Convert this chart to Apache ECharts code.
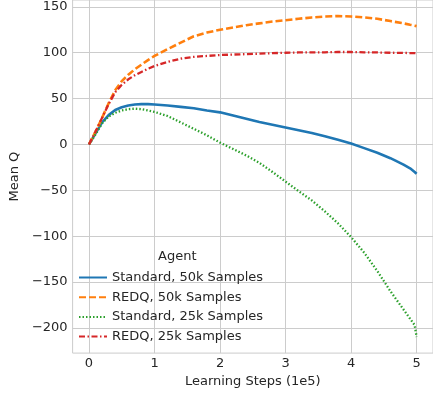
<!DOCTYPE html>
<html><head><meta charset="utf-8">
<script src="https://cdn.jsdelivr.net/npm/echarts@6/dist/echarts.min.js"></script>
<style>html,body{margin:0;padding:0;background:#fff}#c{width:433px;height:393px}</style>
</head><body><div id="c"></div>
<script>
const steps = [0,0.1,0.2,0.3,0.4,0.5,0.6,0.7,0.8,0.9,1.0,1.2,1.4,1.6,1.8,2.0,2.2,2.4,2.6,2.8,3.0,3.2,3.4,3.6,3.8,4.0,4.2,4.4,4.6,4.8,4.9,4.97,5.0];
const standard50k = [0,12,24,32,37.5,40.5,42.5,43.5,44,44,43.5,42.5,41,39.5,37,35,31.5,28,24.5,21.5,18.5,15.5,12.5,9,5,1,-4,-9,-15,-22,-26,-30,-32];
const redq50k = [0,14,29,45,59,69,76,82,87,92,96.5,104,111,118,122,125,127.5,130,132,134,135.5,137,138.5,139.5,140,139.5,138.5,137,134.5,132,130.5,129.5,129];
const standard25k = [0,11,23,30.5,34.5,37,38.5,39,38.5,37,35.5,31,24,17,10,2,-5,-12,-20,-30,-40.5,-51,-61,-73,-86,-101,-118,-138,-160,-180,-190,-197,-210];
const redq25k = [0,14,29,44,57,65,71,75.5,79,82.5,85.5,90,93.5,95.5,96.5,97.5,98,98.5,99,99.5,100,100.3,100.5,100.5,100.8,100.8,100.5,100.3,100,99.8,99.6,99.5,99.5];
const seriesNames = ['Standard, 50k Samples','REDQ, 50k Samples','Standard, 25k Samples','REDQ, 25k Samples'];
const xTicks = [0,1,2,3,4,5];
const yTicks = [-200,-150,-100,-50,0,50,100,150];
const legendTitle = 'Agent';
const xLabel = 'Learning Steps (1e5)';
const yLabel = 'Mean Q';

const pair = vals => steps.map((s,i)=>[s, vals[i]]);
const txt = '#262626', grid = '#cccccc';
const font = 'DejaVu Sans';
const chart = echarts.init(document.getElementById('c'), null, {renderer:'canvas'});
const mk = (name, vals, color, type, width) => ({
  name, type:'line', data: pair(vals), symbol:'none', smooth:false,
  lineStyle:{color, width, type}, itemStyle:{color}, z: 3
});
chart.setOption({
  animation:false,
  backgroundColor:'#fff',
  grid:{left:67, right:0, top:0, bottom:39, show:true, borderColor:grid, borderWidth:1, containLabel:false},
  xAxis:{type:'value', min:-0.25, max:5.25,
    name:xLabel, nameLocation:'middle', nameGap:20, nameTextStyle:{color:txt, fontSize:13, fontFamily:font},
    axisLine:{show:false}, axisTick:{show:false, customValues:xTicks},
    axisLabel:{customValues:xTicks, color:txt, fontSize:13, fontFamily:font, margin:4},
    splitLine:{show:true, lineStyle:{color:grid, width:1}}},
  yAxis:{type:'value', min:-227.5, max:157.5,
    name:yLabel, nameLocation:'middle', nameGap:46, nameTextStyle:{color:txt, fontSize:13, fontFamily:font},
    axisLine:{show:false}, axisTick:{show:false, customValues:yTicks},
    axisLabel:{customValues:yTicks, color:txt, fontSize:13, fontFamily:font, margin:5,
      formatter: v => v < 0 ? '\u2212' + Math.abs(v) : String(v)},
    splitLine:{show:true, lineStyle:{color:grid, width:1}}},
  legend:{orient:'vertical', left:78, top:270.5, itemWidth:28, itemHeight:14, itemGap:5.7,
    data:seriesNames, lineStyle:{width:2}, itemStyle:{opacity:0, color:'rgba(0,0,0,0)', borderWidth:0},
    textStyle:{color:txt, fontSize:13, fontFamily:font, lineHeight:14}, padding:0},
  graphic:[{type:'text', left:158, top:250, style:{text:legendTitle, fill:txt, font:'13px "DejaVu Sans"'}}],
  series:[
    mk(seriesNames[0], standard50k, '#1f77b4', 'solid', 2.6),
    mk(seriesNames[1], redq50k, '#ff7f0e', [7,3], 2.6),
    mk(seriesNames[2], standard25k, '#2ca02c', [1.5,2], 2.3),
    mk(seriesNames[3], redq25k, '#d62728', [6,2.5,1.5,2.5], 2.3)
  ]
});
</script></body></html>
